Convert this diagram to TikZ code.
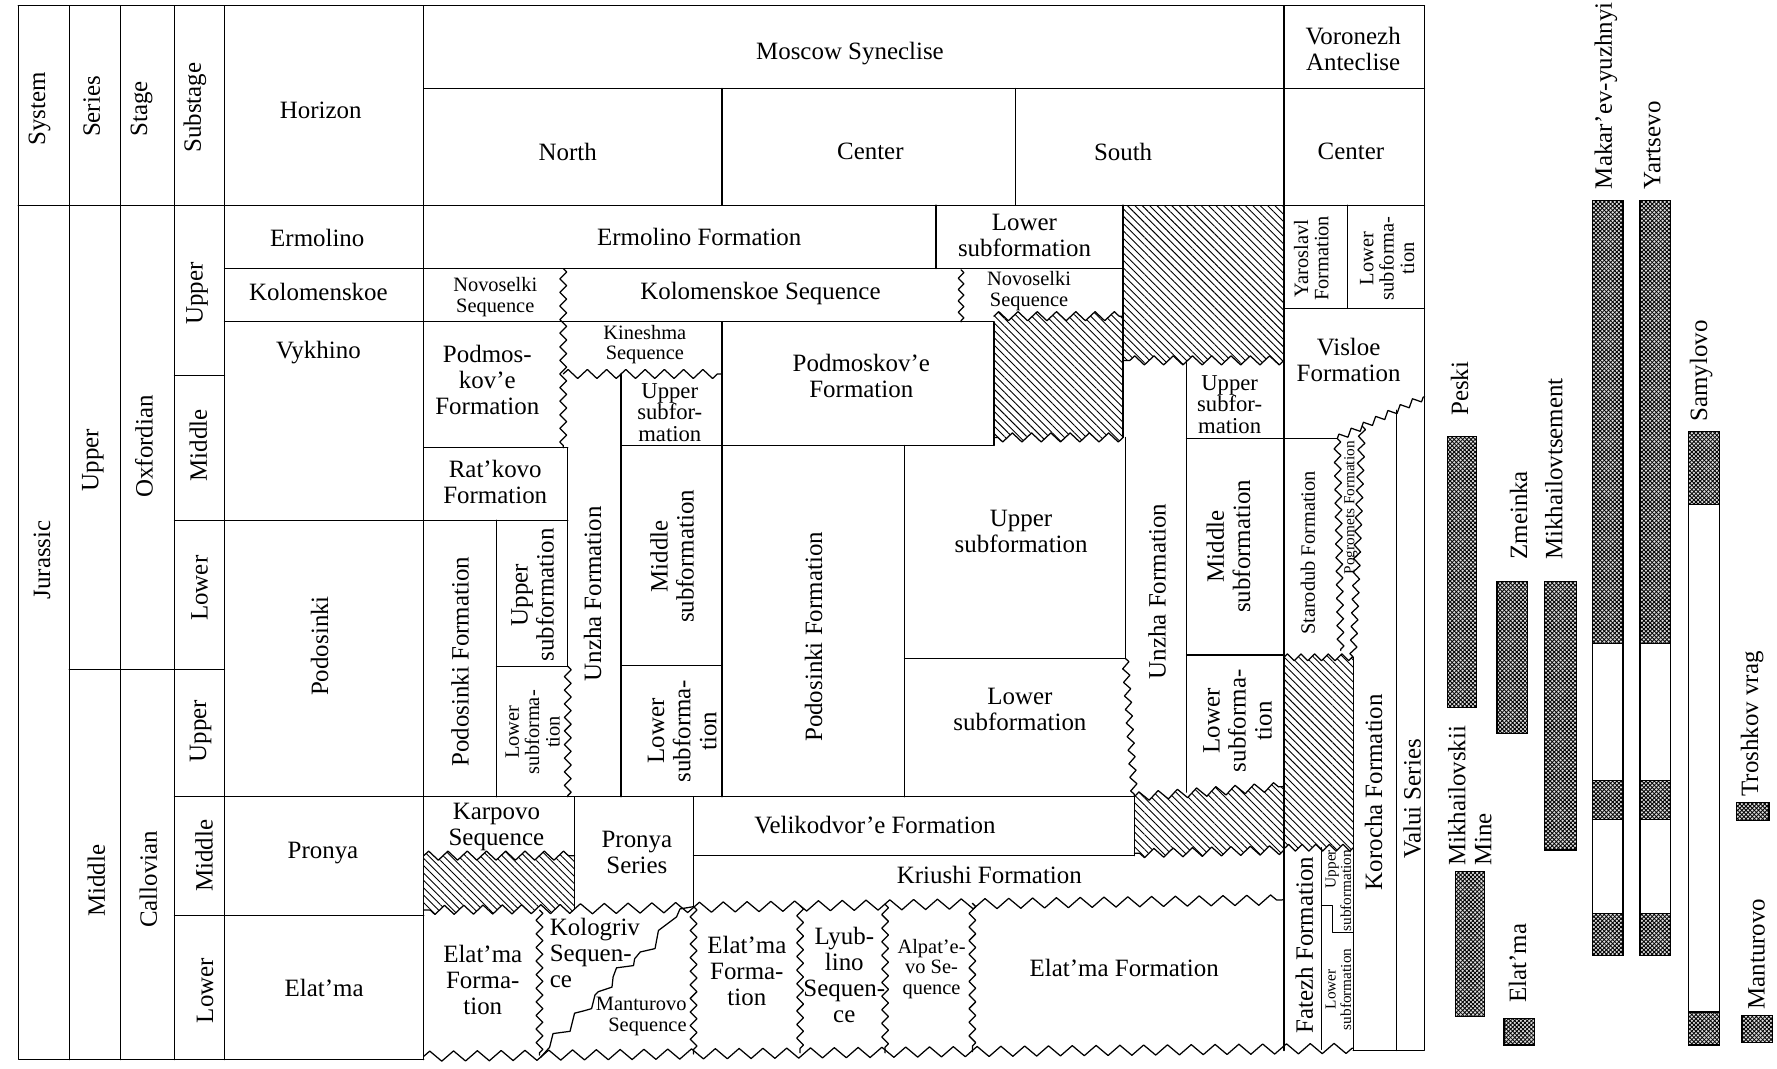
\documentclass[tikz,border=0pt]{standalone}
\usepackage{fontspec}
\setmainfont{Liberation Serif}
\usetikzlibrary{decorations.pathmorphing,patterns.meta}
\begin{document}
\begin{tikzpicture}[x=1pt,y=-1pt,
  ln/.style={line width=1.1pt,line join=round,line cap=round},
  zA/.style={decoration={zigzag,segment length=12pt,amplitude=3pt}},
  zAs/.style={decoration={zigzag,segment length=10pt,amplitude=2.5pt}},
  zB/.style={decoration={zigzag,segment length=17pt,amplitude=4pt}},
  zC/.style={decoration={zigzag,segment length=21pt,amplitude=4.5pt}},
  hatch/.style={pattern={Lines[angle=-45,distance=4.6pt,line width=0.8pt]}},
  xhatch/.style={preaction={fill=gray!25},
     preaction={pattern={Lines[angle=45,distance=2.6pt,line width=0.75pt]}},
     preaction={pattern={Lines[angle=-45,distance=2.6pt,line width=0.75pt]}},
     draw,line width=1.1pt},
  lab/.style={font=\fontsize{22}{23}\selectfont,align=center,inner sep=0pt},
  labm/.style={font=\fontsize{20}{19}\selectfont,align=center,inner sep=0pt},
  labs/.style={font=\fontsize{18}{18}\selectfont,align=center,inner sep=0pt},
  labt/.style={font=\fontsize{13.5}{13.5}\selectfont,align=center,inner sep=0pt},
]
\fill[white] (0,0) rectangle (1568,943);
\useasboundingbox (0,0) rectangle (1568,943);

% ---------- frame and left columns ----------
\draw[ln] (16,5) -- (1257,5);
\draw[ln] (16,5) -- (16,935) -- (374,935);
\draw[ln] (1257,5) -- (1257,927) -- (1194,927);
\foreach \x in {61,106,154,198} \draw[ln] (\x,5) -- (\x,935);
\draw[ln] (374,5) -- (374,935);
\draw[ln] (16,181) -- (1257,181);
\draw[ln] (374,78) -- (1257,78);
\draw[ln] (637,78) -- (637,181);
\draw[ln] (896,78) -- (896,181);
\draw[ln] (1133,5) -- (1133,927);
\draw[ln] (61,591) -- (198,591);
\draw[ln] (154,331) -- (198,331);
\draw[ln] (154,459) -- (501,459);
\draw[ln] (154,703) -- (1001,703);
\draw[ln] (154,808) -- (374,808);
\draw[ln] (198,237) -- (991,237);
\draw[ln] (198,284) -- (877,284);

% ---------- North ----------
\draw[ln] (826,181) -- (826,237);
\draw[ln,decorate,zA] (497,237) -- (497,395);
\draw[ln,decorate,zAs] (848,238) -- (848,284);
\draw[ln] (374,395) -- (501,395);
\draw[ln] (501,395) -- (501,588);
\draw[ln,decorate,zA] (501,588) -- (501,703);
\draw[ln] (438,459) -- (438,703);
\draw[ln] (438,588) -- (501,588);
\draw[ln,decorate,zB] (497,330) -- (637,330);
\draw[ln] (548,330) -- (548,703);
\draw[ln] (637,284) -- (637,703);
\draw[ln] (548,393) -- (877,393);
\draw[ln] (548,587) -- (637,587);

% ---------- Center / South ----------
\draw[ln] (798,393) -- (798,703);
\draw[ln] (798,581) -- (993,581);
\draw[ln] (993,386) -- (993,581);
\draw[ln,decorate,zA] (993,581) -- (1001,703);
\draw[ln] (877,284) -- (877,393);
\fill[hatch] (877,279) decorate[zB]{-- (991,279)} -- (991,386) decorate[zB]{-- (877,386)} -- cycle;
\draw[ln] (877,279) decorate[zB]{-- (991,279)};
\draw[ln] (991,386) decorate[zB]{-- (877,386)};
\fill[hatch] (991,181) -- (1133,181) -- (1133,318) decorate[zB]{-- (991,318)} -- cycle;
\draw[ln] (1133,318) decorate[zB]{-- (991,318)};
\draw[ln] (991,181) -- (991,386);
\draw[ln] (1047,320) -- (1047,699);
\draw[ln] (1047,387) -- (1180,387);
\draw[ln] (1047,578) -- (1133,578);
\fill[hatch] (1001,703) decorate[zB]{-- (1133,694)} -- (1133,750) decorate[zB]{-- (1001,753)} -- cycle;
\draw[ln] (1001,703) decorate[zB]{-- (1133,694)};
\draw[ln] (1133,750) decorate[zB]{-- (1001,753)};
\draw[ln] (1001,703) -- (1001,755);
\draw[ln] (612,755) -- (1001,755);

% ---------- Voronezh ----------
\draw[ln] (1189,181) -- (1189,272);
\draw[ln] (1133,272) -- (1257,272);
\draw[ln,decorate,zA] (1180,387) -- (1257,350);
\draw[ln,decorate,zA] (1180,387) -- (1183,574);
\draw[ln,decorate,zA] (1202,376) -- (1194,580);
\draw[ln] (1232,362) -- (1232,927);
\draw[ln] (1194,580) -- (1194,927);
\fill[hatch] (1133,580) decorate[zA]{-- (1194,580)} -- (1194,748) decorate[zA]{-- (1133,748)} -- cycle;
\draw[ln] (1133,580) decorate[zA]{-- (1194,580)};
\draw[ln] (1194,748) decorate[zA]{-- (1133,748)};
\draw[ln] (1166,748) -- (1166,926);
\draw[ln] (1166,799) -- (1176,799) -- (1176,823) -- (1194,823);

% ---------- lower rows ----------
\draw[ln] (507,703) -- (507,802);
\draw[ln] (612,703) -- (612,800);
\fill[hatch] (374,755) decorate[zB]{-- (507,755)} -- (507,802) decorate[zB]{-- (374,803)} -- cycle;
\draw[ln] (374,755) decorate[zB]{-- (507,755)};
\draw[ln] (507,802) decorate[zB]{-- (374,803)};
\draw[ln,decorate,zC] (507,802) -- (1133,794);
\draw[ln,decorate,zA] (476,803) -- (476,931);
\draw[ln,decorate,zA] (612,800) -- (612,930);
\draw[ln,decorate,zA] (706,799) -- (706,929);
\draw[ln,decorate,zA] (781,798) -- (781,929);
\draw[ln,decorate,zA] (858,797) -- (858,928);
\draw[ln] (612,800) -- (600,802) -- (597,809) -- (581,821) -- (578,837) -- (565,840) -- (560,846) -- (559,852) -- (544,854) -- (541,862) -- (540,871) -- (528,875) -- (525,878) -- (522,890) -- (515,892) -- (507,894) -- (503,910) -- (488,912) -- (485,924) -- (477,933);
\draw[ln,decorate,zC] (374,932) -- (1194,925);

% ---------- right panel bars ----------
\path[xhatch] (1277,385) rectangle (1303,624);
\path[xhatch] (1284,769) rectangle (1310,897);
\path[xhatch] (1321,513) rectangle (1348,647);
\path[xhatch] (1327,899) rectangle (1354,922);
\path[xhatch] (1363,513) rectangle (1391,750);
\path[xhatch] (1405,177) rectangle (1432,568);
\draw[ln] (1405,568) rectangle (1432,689);
\path[xhatch] (1405,689) rectangle (1432,723);
\draw[ln] (1405,723) rectangle (1432,806);
\path[xhatch] (1405,806) rectangle (1432,843);
\path[xhatch] (1447,177) rectangle (1474,568);
\draw[ln] (1447,568) rectangle (1474,689);
\path[xhatch] (1447,689) rectangle (1474,723);
\draw[ln] (1447,723) rectangle (1474,806);
\path[xhatch] (1447,806) rectangle (1474,843);
\path[xhatch] (1490,381) rectangle (1517,445);
\draw[ln] (1490,445) rectangle (1517,893);
\path[xhatch] (1490,893) rectangle (1517,922);
\path[xhatch] (1532,708) rectangle (1561,724);
\path[xhatch] (1537,896) rectangle (1564,920);

% ---------- header texts ----------
\node[lab,rotate=90] (nsys) at (35,96) {System};
\node[lab,rotate=90] (nser) at (81,94) {Series};
\node[lab,rotate=90] (nsta) at (125,96) {Stage};
\node[lab,rotate=90] (nsub) at (172,95) {Substage};
\node[lab] (nhor) at (283,97) {Horizon};
\node[lab] (nmos) at (750,47) {Moscow Syneclise};
\node[lab] (nvor) at (1194,43) {Voronezh\\Anteclise};
\node[lab] (nnor) at (501,134) {North};
\node[lab] (ncen) at (768,134) {Center};
\node[lab] (nsou) at (991,134) {South};
\node[lab] (ncev) at (1192,134) {Center};

% ---------- left column texts ----------
\node[lab,rotate=90] (njur) at (37,494) {Jurassic};
\node[lab,rotate=90] (nsu) at (82,406) {Upper};
\node[lab,rotate=90] (nsm) at (85,777) {Middle};
\node[lab,rotate=90] (noxf) at (127,394) {Oxfordian};
\node[lab,rotate=90] (ncal) at (131,776) {Callovian};
\node[lab,rotate=90] (nss1) at (174,259) {Upper};
\node[lab,rotate=90] (nss2) at (175,393) {Middle};
\node[lab,rotate=90] (nss3) at (176,519) {Lower};
\node[lab,rotate=90] (nss4) at (177,645) {Upper};
\node[lab,rotate=90] (nss5) at (180,755) {Middle};
\node[lab,rotate=90] (nss6) at (181,874) {Lower};
\node[lab] (nh1) at (280,210) {Ermolino};
\node[lab] (nh2) at (281,258) {Kolomenskoe};
\node[lab] (nh3) at (281,311) {Vykhino};
\node[lab,rotate=90] (nh4) at (282,570) {Podosinki};
\node[lab] (nh5) at (285,753) {Pronya};
\node[lab] (nh6) at (286,872) {Elat’ma};

% ---------- body texts ----------
\node[lab] (nermf) at (617,209) {Ermolino Formation};
\node[lab] (nlsa) at (904,208) {Lower\\subformation};
\node[labs] (nnov1) at (437,262) {Novoselki\\Sequence};
\node[lab] (nkols) at (671,259) {Kolomenskoe Sequence};
\node[labs] (nnov2) at (908,257) {Novoselki\\Sequence};
\node[lab] (npodn) at (430,335) {Podmos-\\kov'e\\Formation};
\node[labs] (nkin) at (569,304) {Kineshma\\Sequence};
\node[labm] (nusa) at (591,364) {Upper\\subfor-\\mation};
\node[lab] (npodc) at (760,332) {Podmoskov’e\\Formation};
\node[lab] (nrat) at (437,425) {Rat’kovo\\Formation};
\node[lab,rotate=90] (nposn) at (406,584) {Podosinki Formation};
\node[lab,rotate=90] (nusb) at (470,525) {Upper\\subformation};
\node[labs,rotate=90] (nlsb) at (470,646) {Lower\\subforma-\\tion};
\node[lab,rotate=90] (nunz1) at (523,524) {Unzha Formation};
\node[lab,rotate=90] (nmsa) at (593,491) {Middle\\subformation};
\node[lab,rotate=90] (nlsc) at (602,645) {Lower\\subforma-\\tion};
\node[lab,rotate=90] (nposc) at (718,562) {Podosinki Formation};
\node[lab] (nusc) at (901,469) {Upper\\subformation};
\node[lab] (nlsd) at (900,626) {Lower\\subformation};
\node[lab,rotate=90] (nunz2) at (1021,522) {Unzha Formation};
\node[labm] (nusd) at (1085,357) {Upper\\subfor-\\mation};
\node[lab,rotate=90] (nmsb) at (1084,482) {Middle\\subformation};
\node[lab,rotate=90] (nlse) at (1092,636) {Lower\\subforma-\\tion};
\node[labs,rotate=90] (nyar) at (1157,228) {Yaroslavl\\Formation};
\node[labs,rotate=90] (nlsf) at (1224,228) {Lower\\subforma-\\tion};
\node[lab] (nvis) at (1190,318) {Visloe\\Formation};
\node[labs,rotate=90] (nstd) at (1154,488) {Starodub Formation};
\node[labt,rotate=90] (npog) at (1192,448) {Pogromets Formation};
\node[lab,rotate=90] (nkor) at (1212,699) {Korocha Formation};
\node[lab,rotate=90] (nval) at (1246,705) {Valui Series};
\node[lab,rotate=90] (nfat) at (1151,834) {Fatezh Formation};
\node[labt,rotate=90,align=right] (nfus) at (1181,786) {Upper\\subformation};
\node[labt,rotate=90] (nfls) at (1181,873) {Lower\\subformation};
\node[lab] (nkar) at (438,730) {Karpovo\\Sequence};
\node[lab] (npro) at (562,752) {Pronya\\Series};
\node[lab] (nvel) at (772,728) {Velikodvor’e Formation};
\node[lab] (nkri) at (873,772) {Kriushi Formation};
\node[lab] (nelan) at (426,865) {Elat’ma\\Forma-\\tion};
\node[lab,align=left,anchor=west] (nkol) at (485,841) {Kologriv\\Sequen-\\ce};
\node[labs,align=right,anchor=east] (nman) at (606,897) {Manturovo\\Sequence};
\node[lab] (nelac) at (659,857) {Elat’ma\\Forma-\\tion};
\node[lab] (nlyu) at (745,860) {Lyub-\\lino\\Sequen-\\ce};
\node[labs] (nalp) at (822,855) {Alpat’e-\\vo Se-\\quence};
\node[lab] (nelas) at (992,854) {Elat’ma Formation};

% ---------- right panel labels ----------
\node[lab,rotate=90,anchor=west] (lpes) at (1288,367) {Peski};
\node[lab,rotate=90,anchor=west,align=left] (lmik) at (1297,764) {Mikhailovskii\\Mine};
\node[lab,rotate=90,anchor=west] (lzme) at (1340,494) {Zmeinka};
\node[lab,rotate=90,anchor=west] (lmts) at (1371,494) {Mikhailovtsement};
\node[lab,rotate=90,anchor=west] (lmak) at (1417,167) {Makar’ev-yuzhnyi};
\node[lab,rotate=90,anchor=west] (lyar) at (1458,167) {Yartsevo};
\node[lab,rotate=90,anchor=west] (lsam) at (1501,372) {Samylovo};
\node[lab,rotate=90,anchor=west] (lela) at (1339,885) {Elat’ma};
\node[lab,rotate=90,anchor=west] (ltro) at (1546,703) {Troshkov vrag};
\node[lab,rotate=90,anchor=west] (lman) at (1550,891) {Manturovo};
\end{tikzpicture}
\end{document}
